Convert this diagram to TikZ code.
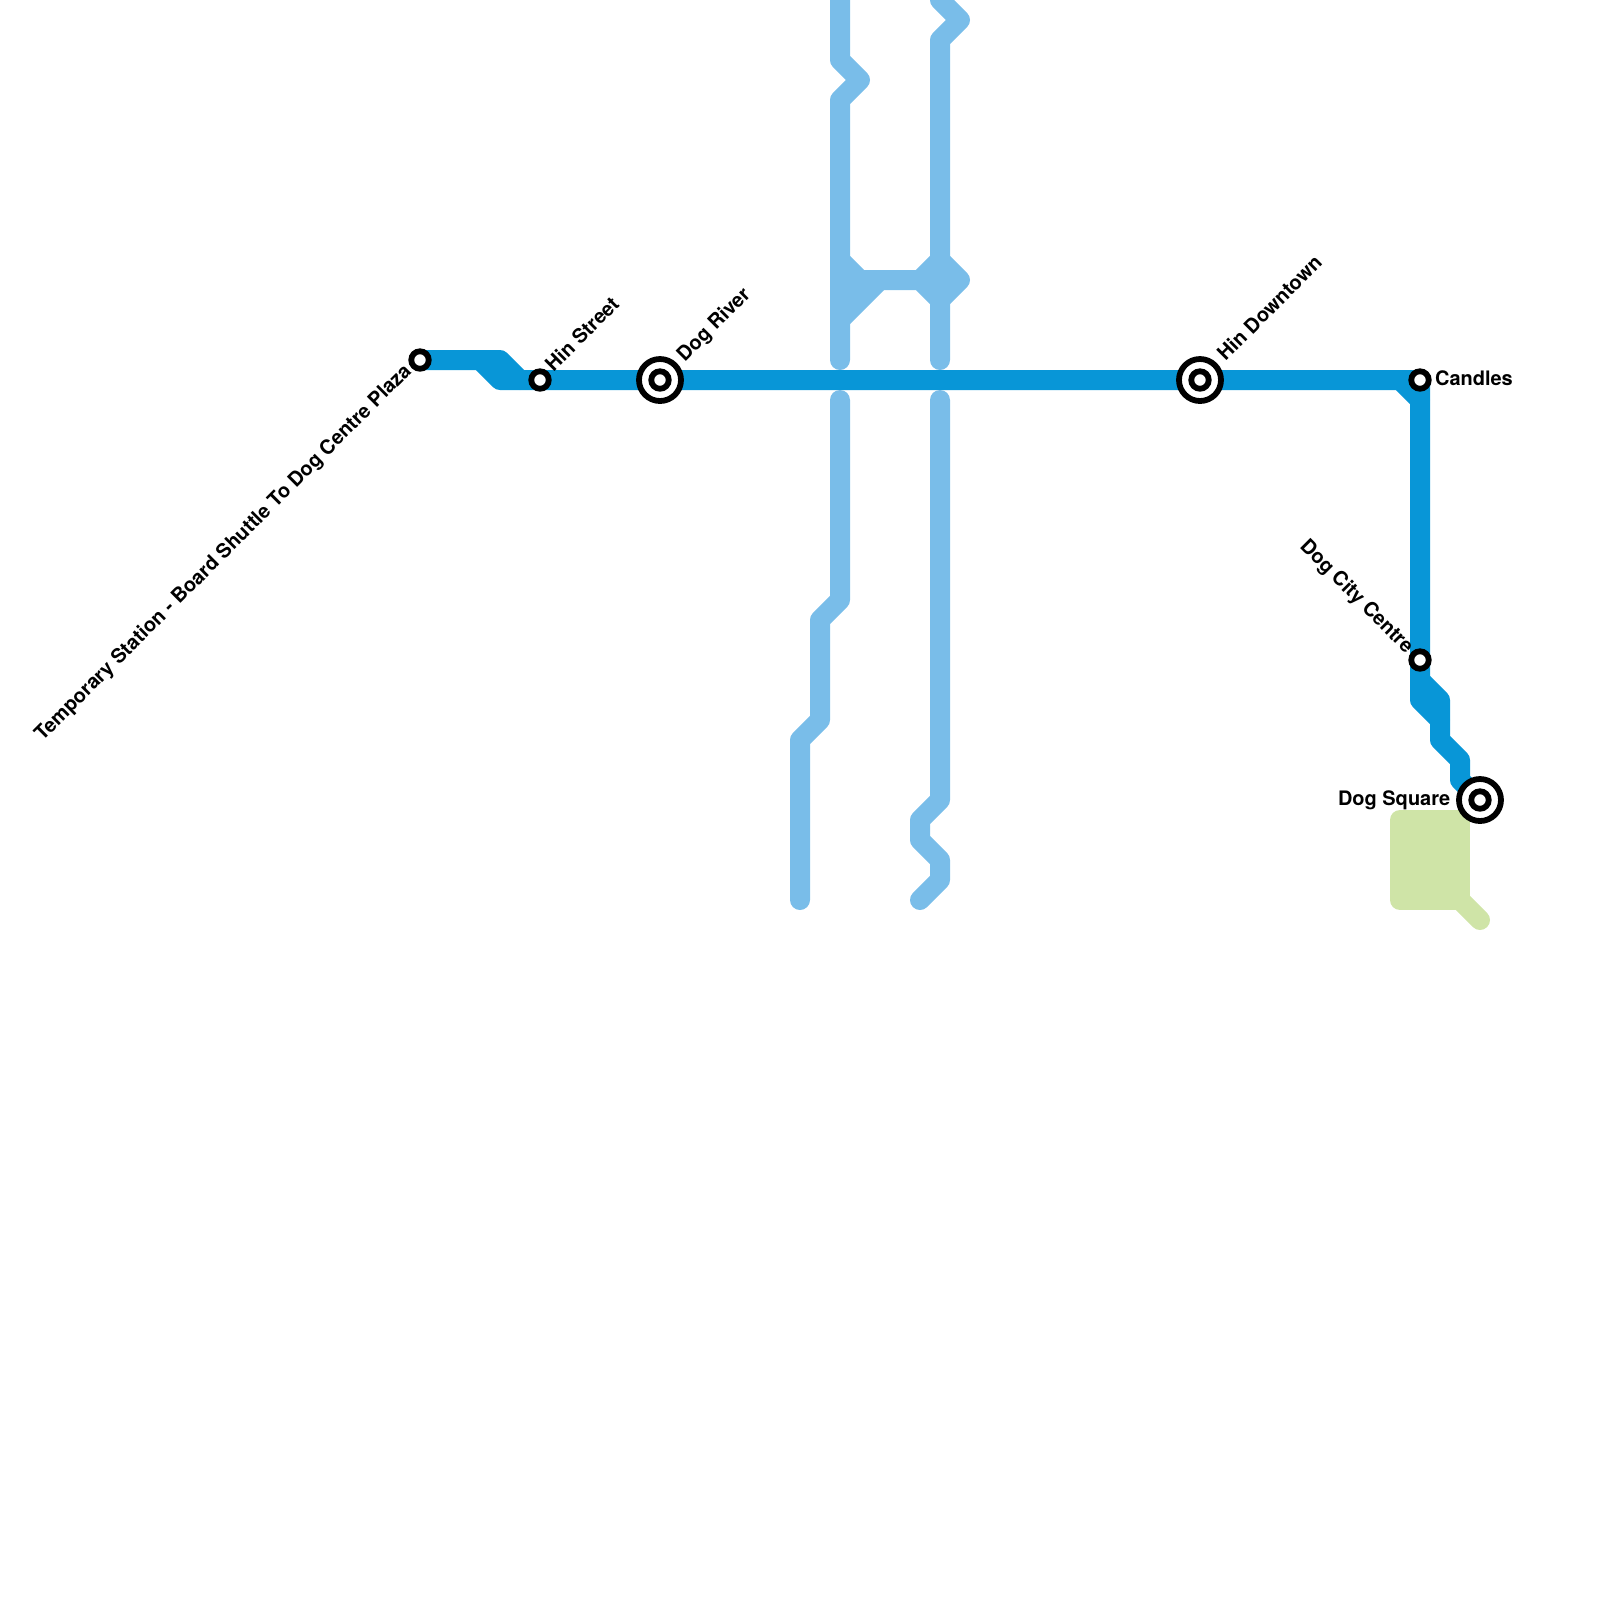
\documentclass[tikz,border=0pt]{standalone}
\usepackage{fontspec}
\setmainfont{TeX Gyre Heros}
\usetikzlibrary{backgrounds}
\definecolor{darkline}{HTML}{0896D7}
\definecolor{lightline}{HTML}{79BDE9}
\definecolor{parkline}{HTML}{CFE4A7}
\tikzset{
  route/.style={line width=0.2cm, line cap=round, line join=round},
  stop/.style={circle, draw=black, fill=white, line width=0.058cm, inner sep=0pt, minimum size=0.175cm},
  hub/.style={circle, draw=black, fill=white, line width=0.058cm, inner sep=0pt, minimum size=0.42cm},
  stn/.style={font=\fontsize{5.68}{6}\selectfont\bfseries, inner sep=0pt}
}
\begin{document}
\begin{tikzpicture}[x=0.2cm, y=-0.2cm]
  \useasboundingbox (0,0) rectangle (80,80);
  % stations
  \node[stop] (temp) at (21,18) {};
  \node[stop] (hin) at (27,19) {};
  \node[hub] (river) at (33,19) {};
  \node[stop] (riverin) at (33,19) {};
  \node[hub] (downtown) at (60,19) {};
  \node[stop] (downtownin) at (60,19) {};
  \node[stop] (candles) at (71,19) {};
  \node[stop] (city) at (71,33) {};
  \node[hub] (square) at (74,40) {};
  \node[stop] (squarein) at (74,40) {};
  % routes
  \begin{scope}[on background layer]
    \draw[route, darkline] (temp.center) -- (25,18) -- (26,19) -- (hin.center) -- (river.center)
      -- (downtown.center) -- (candles.center) -- (city.center) -- (71,35) -- (72,36)
      -- (72,37) -- (73,38) -- (73,39) -- (square.center);
    \draw[route, darkline] (24,18) -- (25,19) -- (26,19);
    \draw[route, darkline] (70,19) -- (71,20);
    \draw[route, darkline] (71,34) -- (72,35) -- (72,36);
    % upper branches
    \draw[route, lightline] (42,-1) -- (42,3) -- (43,4) -- (42,5) -- (42,18);
    \draw[route, lightline] (47,-1) -- (47,0) -- (48,1) -- (47,2) -- (47,18);
    \draw[route, lightline] (42,13) -- (43,14) -- (46,14) -- (47,13) -- (48,14) -- (47,15) -- (46,14);
    \draw[route, lightline] (42,16) -- (44,14);
    \fill[lightline] (42,13) -- (43.5,14.5) -- (42,16) -- cycle;
    \fill[lightline] (47,13) -- (48,14) -- (47,15) -- (46,14) -- cycle;
    % lower branches
    \draw[route, lightline] (42,20) -- (42,30) -- (41,31) -- (41,36) -- (40,37) -- (40,45);
    \draw[route, lightline] (47,20) -- (47,40) -- (46,41) -- (46,42) -- (47,43) -- (47,44) -- (46,45);
    % park
    \draw[route, parkline, fill=parkline] (70,41) rectangle (73,45);
    \draw[route, parkline] (73,45) -- (74,46);
  \end{scope}
  % labels
  \node[stn, rotate=45, anchor=east] (templabel) at (20.45,18.4) {Temporary Station - Board Shuttle To Dog Centre Plaza};
  \node[stn, rotate=45, anchor=west] (hinlabel) at (27.4,18.38) {Hin Street};
  \node[stn, rotate=45, anchor=west] (riverlabel) at (34.03,17.95) {Dog River};
  \node[stn, rotate=45, anchor=west] (downtownlabel) at (61,17.85) {Hin Downtown};
  \node[stn, anchor=west] (candleslabel) at (71.72,18.9) {Candles};
  \node[stn, rotate=-45, anchor=east] (citylabel) at (70.5,32.55) {Dog City Centre};
  \node[stn, anchor=east] (squarelabel) at (72.55,40) {Dog Square};
\end{tikzpicture}
\end{document}
